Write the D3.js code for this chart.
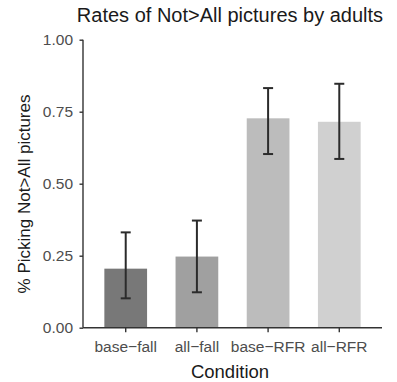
<!DOCTYPE html>
<html><head><meta charset="utf-8">
<script src="https://cdn.jsdelivr.net/npm/d3@7"></script>
<style>body{margin:0;background:#fff}svg{display:block}text{font-family:"Liberation Sans",Arial,sans-serif}</style>
</head><body><svg id="c" width="397" height="382"></svg>
<script>
const categories = ["base\u2212fall", "all\u2212fall", "base\u2212RFR", "all\u2212RFR"];
const means = [0.205, 0.247, 0.727, 0.715];
const lower = [0.102, 0.123, 0.603, 0.586];
const upper = [0.331, 0.372, 0.832, 0.847];
const fills = ["#787878", "#a0a0a0", "#bcbcbc", "#d0d0d0"];
const yTicks = [0, 0.25, 0.5, 0.75, 1.0];

const svg = d3.select("#c");
const L = 83, R = 382, T = 39.7, B = 327.7;
const step = (R - L) / 4.2;
const x = d3.scaleBand().domain(categories).range([L + 0.6*step - step/2, R - 0.6*step + step/2]).paddingInner(0.4).paddingOuter(0.2);
const y = d3.scaleLinear().domain([0, 1]).range([B, T]);

svg.selectAll("rect.bar").data(categories).enter().append("rect")
  .attr("x", d => x(d)).attr("width", x.bandwidth())
  .attr("y", (d,i) => y(means[i])).attr("height", (d,i) => B - y(means[i]))
  .attr("fill", (d,i) => fills[i]);

const eb = svg.append("g").attr("stroke", "#2b2b2b").attr("stroke-width", 2);
categories.forEach((d,i) => {
  const cx = x(d) + x.bandwidth()/2;
  eb.append("line").attr("x1", cx).attr("x2", cx).attr("y1", y(lower[i])).attr("y2", y(upper[i]));
  eb.append("line").attr("x1", cx-5).attr("x2", cx+5).attr("y1", y(lower[i])).attr("y2", y(lower[i]));
  eb.append("line").attr("x1", cx-5).attr("x2", cx+5).attr("y1", y(upper[i])).attr("y2", y(upper[i]));
});

const ya = svg.append("g").attr("transform", `translate(${L},0)`)
  .call(d3.axisLeft(y).tickValues(yTicks).tickFormat(d3.format(".2f")).tickSize(3.5).tickPadding(6.5));
ya.select(".domain").attr("d", `M0,${T}V${B}`).attr("stroke", "#333").attr("stroke-width", 1.4);
ya.selectAll(".tick line").attr("stroke", "#333").attr("stroke-width", 1.4);
ya.selectAll(".tick text").attr("font-size", 15.5).attr("fill", "#4d4d4d").attr("font-family", "Liberation Sans, Arial, sans-serif");

const xa = svg.append("g").attr("transform", `translate(0,${B})`)
  .call(d3.axisBottom(x).tickSize(4.5));
xa.select(".domain").attr("d", `M${L},0H${R}`).attr("stroke", "#333").attr("stroke-width", 1.4);
xa.selectAll(".tick line").attr("stroke", "#333").attr("stroke-width", 1.4);
xa.selectAll(".tick text").attr("font-size", 15.5).attr("fill", "#4d4d4d").attr("y", 24.5).attr("dy", 0)
  .attr("font-family", "Liberation Sans, Arial, sans-serif");

svg.append("text").attr("x", 230).attr("y", 21.5).attr("text-anchor", "middle")
  .attr("font-size", 20).attr("fill", "#1a1a1a").text("Rates of Not>All pictures by adults");
svg.append("text").attr("x", 230).attr("y", 377.5).attr("text-anchor", "middle")
  .attr("font-size", 18.5).attr("fill", "#1a1a1a").text("Condition");
svg.append("text").attr("transform", `translate(30,194) rotate(-90)`).attr("text-anchor", "middle")
  .attr("font-size", 17).attr("fill", "#1a1a1a").text("% Picking Not>All pictures");
</script></body></html>
